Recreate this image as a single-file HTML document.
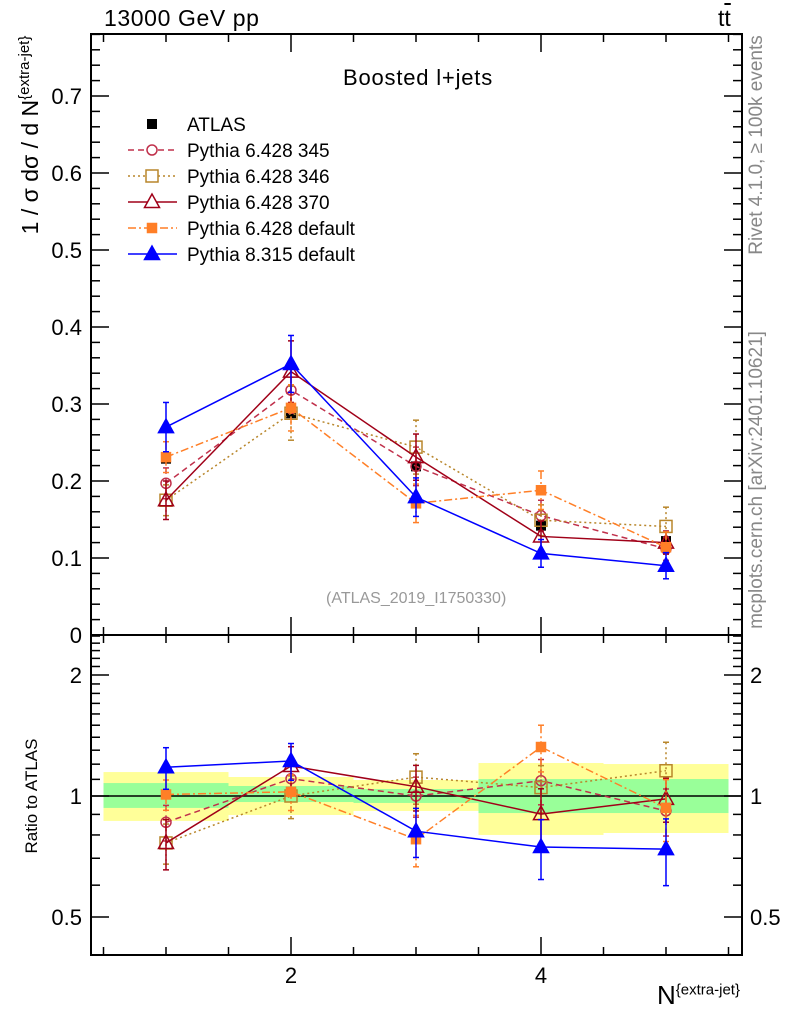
<!DOCTYPE html>
<html><head><meta charset="utf-8"><style>
body{margin:0;background:#fff}
svg{display:block;font-family:"Liberation Sans",sans-serif}
</style></head><body>
<svg id="c" width="786" height="1024" viewBox="0 0 786 1024"></svg>
<script>
const xs=[1,2,3,4,5];
const atlas=[0.229,0.288,0.219,0.142,0.122];
const s345=[0.197,0.318,0.219,0.155,0.112];
const s346=[0.175,0.288,0.244,0.149,0.141];
const s370=[0.175,0.342,0.231,0.128,0.120];
const s6def=[0.231,0.295,0.171,0.188,0.114];
const s8def=[0.270,0.352,0.179,0.106,0.090];
const e345=[0.02,0.03,0.025,0.02,0.015];
const e346=[0.02,0.035,0.035,0.02,0.025];
const e370=[0.025,0.04,0.03,0.02,0.015];
const e6def=[0.02,0.03,0.025,0.025,0.02];
const e8def=[0.032,0.037,0.025,0.018,0.017];
const greenLo=[0.934,0.966,0.961,0.907,0.907];
const greenHi=[1.077,1.059,1.041,1.102,1.102];
const yellowLo=[0.867,0.897,0.918,0.800,0.809];
const yellowHi=[1.147,1.115,1.096,1.208,1.201];
const yTicks=[0,0.1,0.2,0.3,0.4,0.5,0.6,0.7];
const yTickLabels=["0","0.1","0.2","0.3","0.4","0.5","0.6","0.7"];
const rTicks=[0.5,1,2];
const rTickLabels=["0.5","1","2"];
const xTickLabels=["2","4"];

const NS="http://www.w3.org/2000/svg";
const svg=document.getElementById('c');
const L=91,R=742,T=34,M=635,B=955;
const X=v=>166+(v-1)*125;
const Y=v=>M-v*770;
const RY=r=>796-121*Math.log2(r);
function mk(tag,attrs,parent){const e=document.createElementNS(NS,tag);for(const k in attrs)e.setAttribute(k,attrs[k]);(parent||svg).appendChild(e);return e;}
function txt(s,attrs,parent){const e=mk('text',attrs,parent);e.textContent=s;return e;}

const bands=mk('g',{});


xs.forEach((x,i)=>{
  const y=mk('rect',{x:X(x-0.5),y:RY(yellowHi[i]),width:125,height:RY(yellowLo[i])-RY(yellowHi[i]),fill:'#ffff99'},bands);
  
  
  const g=mk('rect',{x:X(x-0.5),y:RY(greenHi[i]),width:125,height:RY(greenLo[i])-RY(greenHi[i]),fill:'#99ff99'},bands);
  
  
});
const one=mk('line',{x1:L,x2:R,y1:RY(1),y2:RY(1),stroke:'#000','stroke-width':1.5});



const f1=mk('rect',{x:L,y:T,width:R-L,height:M-T,fill:'none',stroke:'#000','stroke-width':2});


const f2=mk('rect',{x:L,y:M,width:R-L,height:B-M,fill:'none',stroke:'#000','stroke-width':2});



const ax=mk('g',{stroke:'#000','stroke-width':1.5});


for(let v=0.5;v<=5.51;v+=0.5){
  const maj=(v===2||v===4);const len=maj?18:8;
  [T,M].forEach(y0=>mk('line',{x1:X(v),x2:X(v),y1:y0,y2:y0+len},ax));
  [M,B].forEach(y0=>mk('line',{x1:X(v),x2:X(v),y1:y0,y2:y0-len},ax));
}
for(let i=0;i<=39;i++){const v=i*0.02;const maj=i%5===0;const len=maj?18:9;const y=Y(v);if(y<T)continue;
  mk('line',{x1:L,x2:L+len,y1:y,y2:y},ax);mk('line',{x1:R,x2:R-len,y1:y,y2:y},ax);}
for(let i=5;i<=25;i++){const r=i/10;const maj=(i===5||i===10||i===20);const len=maj?18:9;const y=RY(r);if(y<M||y>B)continue;
  mk('line',{x1:L,x2:L+len,y1:y,y2:y},ax);mk('line',{x1:R,x2:R-len,y1:y,y2:y},ax);}
yTicks.forEach((v,i)=>{const t=txt(yTickLabels[i],{x:82,y:Y(v)+8,'font-size':22,'text-anchor':'end'});
  });
rTicks.forEach((v,i)=>{
  const t=txt(rTickLabels[i],{x:82,y:RY(v)+8,'font-size':22,'text-anchor':'end'});
  
  const t2=txt(rTickLabels[i],{x:750,y:RY(v)+8,'font-size':22});
  
});
[2,4].forEach((v,i)=>{const t=txt(xTickLabels[i],{x:X(v),y:983,'font-size':22,'text-anchor':'middle'});
  });

const series=[
 {n:'pythia6-345',v:s345,e:e345,c:'#c0304b',d:'6,4',m:'circle',fill:'none'},
 {n:'pythia6-346',v:s346,e:e346,c:'#b8862b',d:'2,3',m:'square',fill:'none'},
 {n:'pythia6-370',v:s370,e:e370,c:'#a00018',d:'',m:'tri',fill:'none'},
 {n:'pythia6-default',v:s6def,e:e6def,c:'#ff7f27',d:'8,3,2,3',m:'square',fill:'#ff7f27'},
 {n:'pythia8-default',v:s8def,e:e8def,c:'#0000ff',d:'',m:'tri',fill:'#0000ff'}
];
function marker(g,m,x,y,c,fill,s){
  if(m==='circle')mk('circle',{cx:x,cy:y,r:5,fill:fill,stroke:c,'stroke-width':1.5},g);
  else if(m==='square'){const h=s||5;mk('rect',{x:x-h,y:y-h,width:2*h,height:2*h,fill:fill,stroke:c,'stroke-width':1.5},g);}
  else mk('polygon',{points:`${x},${y-8} ${x-7.5},${y+5.5} ${x+7.5},${y+5.5}`,fill:fill,stroke:c,'stroke-width':1.5},g);
}
const ga=mk('g',{});


xs.forEach((x,i)=>mk('rect',{x:X(x)-5,y:Y(atlas[i])-5,width:10,height:10,fill:'#000'},ga));
series.forEach(s=>{
  const g=mk('g',{});
  
  
  const pts=xs.map((x,i)=>X(x)+','+Y(s.v[i])).join(' ');
  mk('polyline',{points:pts,fill:'none',stroke:s.c,'stroke-width':1.5,'stroke-dasharray':s.d},g);
  const rp=xs.map((x,i)=>X(x)+','+RY(s.v[i]/atlas[i])).join(' ');
  mk('polyline',{points:rp,fill:'none',stroke:s.c,'stroke-width':1.5,'stroke-dasharray':s.d},g);
  xs.forEach((x,i)=>{
    const px=X(x);
    const y1=Y(s.v[i]+s.e[i]),y2=Y(s.v[i]-s.e[i]);
    mk('line',{x1:px,x2:px,y1:y1,y2:y2,stroke:s.c,'stroke-width':1.5,'stroke-dasharray':s.d},g);
    mk('line',{x1:px-3,x2:px+3,y1:y1,y2:y1,stroke:s.c,'stroke-width':1.5},g);
    mk('line',{x1:px-3,x2:px+3,y1:y2,y2:y2,stroke:s.c,'stroke-width':1.5},g);
    marker(g,s.m,px,Y(s.v[i]),s.c,s.fill,s.fill==='none'?6:4.5);
    const r=s.v[i]/atlas[i],re=s.e[i]/atlas[i];
    const r1=RY(r+re),r2=RY(Math.max(r-re,0.3));
    mk('line',{x1:px,x2:px,y1:r1,y2:r2,stroke:s.c,'stroke-width':1.5,'stroke-dasharray':s.d},g);
    mk('line',{x1:px-3,x2:px+3,y1:r1,y2:r1,stroke:s.c,'stroke-width':1.5},g);
    mk('line',{x1:px-3,x2:px+3,y1:r2,y2:r2,stroke:s.c,'stroke-width':1.5},g);
    marker(g,s.m,px,RY(r),s.c,s.fill,s.fill==='none'?6:4.5);
  });
});

const lg=mk('g',{});


mk('rect',{x:147,y:119,width:10,height:10,fill:'#000'},lg);
txt('ATLAS',{x:187,y:131,'font-size':19},lg);
const names=['Pythia 6.428 345','Pythia 6.428 346','Pythia 6.428 370','Pythia 6.428 default','Pythia 8.315 default'];
series.forEach((s,i)=>{const y=150+i*26;
  const e=mk('g',{},lg);
  
  
  mk('line',{x1:128,x2:177,y1:y,y2:y,stroke:s.c,'stroke-width':1.5,'stroke-dasharray':s.d},e);
  marker(e,s.m,152,y,s.c,s.fill==='none'?'#fff':s.fill,s.fill==='none'?6:4.5);
  txt(names[i],{x:187,y:y+7,'font-size':19},e);
});
</script>
<div style="position:absolute;left:0;top:0;width:786px;height:1024px;pointer-events:none;font-family:'Liberation Sans',sans-serif">
<div style="position:absolute;left:104px;top:5px;font-size:23px;letter-spacing:0.6px">13000 GeV pp</div>
<div style="position:absolute;left:718px;top:5px;font-size:23px">t<span style="text-decoration:overline">t</span></div>
<div style="position:absolute;left:343px;top:65px;font-size:22px;letter-spacing:0.8px">Boosted l+jets</div>
<div style="position:absolute;left:326px;top:590px;font-size:16px;color:#999">(ATLAS_2019_I1750330)</div>
<div style="position:absolute;left:30px;top:135px;transform:translate(-50%,-50%) rotate(-90deg);white-space:nowrap;font-size:23px">1 / σ dσ / d N<sup style="font-size:15px">{extra-jet}</sup></div>
<div style="position:absolute;left:32px;top:796px;transform:translate(-50%,-50%) rotate(-90deg);white-space:nowrap;font-size:17px">Ratio to ATLAS</div>
<div style="position:absolute;right:46px;top:980px;white-space:nowrap;font-size:26px">N<sup style="font-size:15px">{extra-jet}</sup></div>
<div style="position:absolute;left:757px;top:145px;transform:translate(-50%,-50%) rotate(-90deg);white-space:nowrap;font-size:19px;color:#888">Rivet 4.1.0, ≥ 100k events</div>
<div style="position:absolute;left:757px;top:480px;transform:translate(-50%,-50%) rotate(-90deg);white-space:nowrap;font-size:19px;color:#888">mcplots.cern.ch [arXiv:2401.10621]</div>
</div>
</body></html>
